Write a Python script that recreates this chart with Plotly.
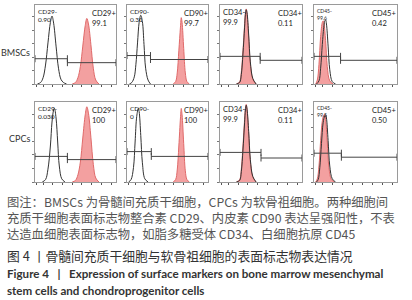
import plotly.graph_objects as go

W, H = 412, 300

# ---- data ----------------------------------------------------------------
row_labels = ["BMSCs", "CPCs"]
markers = ["CD29", "CD90", "CD34", "CD45"]

# percentages printed in each panel (negative gate, positive gate)
bm_neg_pct = ["0.90", "0.31", "99.9", "99.6"]
bm_pos_pct = ["99.1", "99.7", "0.11", "0.42"]
cpc_neg_pct = ["0.030", "0", "99.9", "99.5"]
cpc_pos_pct = ["100", "100", "0.11", "0.50"]

# gate split position (% of panel width) and gate heights (% of max)
bm_gate_split = [40, 29, 49, 32]
bm_gate_left_h = [32, 36, 35, 35]
bm_gate_right_h = [27, 31, 30, 30]
cpc_gate_split = [40, 30, 50, 33]
cpc_gate_left_h = [32, 38, 37, 36]
cpc_gate_right_h = [28, 32, 30, 31]

# histogram curves (x: % of panel width, y: % of max count)
bm_cd29_ctrl_x = [3, 7, 10, 13, 16, 19, 21, 23, 26, 29, 32, 35, 39]
bm_cd29_ctrl_y = [0, 2, 8, 24, 52, 78, 86, 77, 48, 20, 6, 2, 0]
bm_cd29_stain_x = [46, 50, 53, 56, 59, 62, 64, 66, 69, 72, 75, 79]
bm_cd29_stain_y = [0, 2, 8, 22, 48, 74, 83, 76, 50, 20, 5, 0]

bm_cd90_ctrl_x = [3, 6, 9, 11, 13, 15, 17, 19, 21, 23, 26, 29]
bm_cd90_ctrl_y = [0, 2, 9, 25, 52, 78, 87, 79, 50, 20, 5, 0]
bm_cd90_stain_x = [57, 60, 62, 64, 66, 67, 68, 70, 72, 74, 77]
bm_cd90_stain_y = [0, 3, 14, 42, 72, 84, 78, 45, 14, 3, 0]

bm_cd34_stain_x = [20, 24, 26, 28, 30, 31, 32, 33, 35, 37, 40, 44]
bm_cd34_stain_y = [0, 3, 15, 42, 75, 90, 95, 88, 58, 25, 6, 0]
bm_cd34_ctrl_x = [20, 24, 26, 28, 30, 31, 32, 33, 35, 37, 40, 44]
bm_cd34_ctrl_y = [0, 2, 12, 38, 72, 88, 94, 90, 62, 28, 7, 0]

bm_cd45_stain_x = [2, 4, 6, 8, 10, 11, 12, 14, 16, 19, 23]
bm_cd45_stain_y = [0, 5, 25, 60, 78, 80, 77, 55, 22, 4, 0]
bm_cd45_ctrl_x = [3, 6, 8, 10, 12, 13, 14, 15, 17, 19, 22, 26]
bm_cd45_ctrl_y = [0, 4, 20, 50, 74, 80, 81, 76, 48, 18, 3, 0]

cpc_cd29_ctrl_x = [9, 13, 16, 19, 21, 23, 24, 26, 28, 30, 33, 37]
cpc_cd29_ctrl_y = [0, 3, 16, 45, 75, 90, 92, 80, 50, 20, 4, 0]
cpc_cd29_stain_x = [46, 50, 53, 56, 59, 62, 64, 66, 69, 72, 75, 79]
cpc_cd29_stain_y = [0, 2, 9, 25, 55, 84, 94, 86, 56, 22, 5, 0]

cpc_cd90_ctrl_x = [2, 5, 8, 10, 12, 14, 15, 17, 19, 22, 26]
cpc_cd90_ctrl_y = [0, 3, 18, 50, 82, 92, 88, 58, 24, 4, 0]
cpc_cd90_stain_x = [57, 60, 62, 64, 66, 67, 68, 70, 72, 74, 77]
cpc_cd90_stain_y = [0, 3, 15, 45, 80, 92, 84, 48, 14, 3, 0]

cpc_cd34_stain_x = [20, 24, 26, 28, 30, 31, 32, 33, 35, 37, 40, 44]
cpc_cd34_stain_y = [0, 3, 16, 45, 78, 92, 97, 90, 60, 26, 6, 0]
cpc_cd34_ctrl_x = [20, 24, 26, 28, 30, 31, 32, 33, 35, 37, 40, 44]
cpc_cd34_ctrl_y = [0, 2, 13, 40, 74, 90, 96, 91, 63, 28, 7, 0]

cpc_cd45_stain_x = [2, 4, 6, 8, 10, 12, 13, 14, 16, 18, 21, 25]
cpc_cd45_stain_y = [0, 4, 20, 52, 76, 84, 84, 78, 50, 18, 3, 0]
cpc_cd45_ctrl_x = [3, 5, 7, 9, 11, 13, 14, 15, 17, 19, 22, 26]
cpc_cd45_ctrl_y = [0, 3, 18, 48, 74, 83, 84, 80, 52, 20, 4, 0]

caption_lines = [
    "图注：BMSCs 为骨髓间充质干细胞，CPCs 为软骨祖细胞。两种细胞间",
    "充质干细胞表面标志物整合素 CD29、内皮素 CD90 表达呈强阳性，不表",
    "达造血细胞表面标志物，如脂多糖受体 CD34、白细胞抗原 CD45",
]
title_cn = "图 4 丨骨髓间充质干细胞与软骨祖细胞的表面标志物表达情况"
title_en = [
    "Figure 4&nbsp;&nbsp;&nbsp;|&nbsp;&nbsp;&nbsp;Expression of surface markers on bone marrow mesenchymal",
    "stem cells and chondroprogenitor cells",
]

# ---- layout geometry (pixels) --------------------------------------------
col_px = [(35, 116), (127, 208), (220, 302), (314, 397)]
row_px = [(5, 84), (102, 182)]

curves = [
    [(bm_cd29_stain_x, bm_cd29_stain_y, bm_cd29_ctrl_x, bm_cd29_ctrl_y),
     (bm_cd90_stain_x, bm_cd90_stain_y, bm_cd90_ctrl_x, bm_cd90_ctrl_y),
     (bm_cd34_stain_x, bm_cd34_stain_y, bm_cd34_ctrl_x, bm_cd34_ctrl_y),
     (bm_cd45_stain_x, bm_cd45_stain_y, bm_cd45_ctrl_x, bm_cd45_ctrl_y)],
    [(cpc_cd29_stain_x, cpc_cd29_stain_y, cpc_cd29_ctrl_x, cpc_cd29_ctrl_y),
     (cpc_cd90_stain_x, cpc_cd90_stain_y, cpc_cd90_ctrl_x, cpc_cd90_ctrl_y),
     (cpc_cd34_stain_x, cpc_cd34_stain_y, cpc_cd34_ctrl_x, cpc_cd34_ctrl_y),
     (cpc_cd45_stain_x, cpc_cd45_stain_y, cpc_cd45_ctrl_x, cpc_cd45_ctrl_y)],
]
neg_pcts = [bm_neg_pct, cpc_neg_pct]
pos_pcts = [bm_pos_pct, cpc_pos_pct]
splits = [bm_gate_split, cpc_gate_split]
left_h = [bm_gate_left_h, cpc_gate_left_h]
right_h = [bm_gate_right_h, cpc_gate_right_h]

fig = go.Figure()
layout = {}
annotations = []

RED_FILL = "rgba(242,150,150,0.9)"
RED_LINE = "#e06a6a"
BLACK = "#333333"
FRAME = "#9a9a9a"
LAB_FONT = "Lato"

idx = 0
for r in range(2):
    for c in range(4):
        idx += 1
        xa = "x" if idx == 1 else f"x{idx}"
        ya = "y" if idx == 1 else f"y{idx}"
        xkey = "xaxis" if idx == 1 else f"xaxis{idx}"
        ykey = "yaxis" if idx == 1 else f"yaxis{idx}"
        x0, x1 = col_px[c]
        y0, y1 = row_px[r]
        layout[xkey] = dict(
            domain=[x0 / W, x1 / W], range=[0, 100], anchor=ya,
            showline=True, mirror=True, linecolor=FRAME, linewidth=1,
            showgrid=False, zeroline=False, ticks="outside", ticklen=2,
            tickcolor="#555", tickwidth=1, tickvals=[2, 10, 22, 34, 46, 58, 70, 82, 94],
            showticklabels=False, fixedrange=True,
        )
        layout[ykey] = dict(
            domain=[1 - y1 / H, 1 - y0 / H], range=[0, 100], anchor=xa,
            showline=True, mirror=True, linecolor=FRAME, linewidth=1,
            showgrid=False, zeroline=False, ticks="outside", ticklen=2,
            tickcolor="#777", tickwidth=1, tickvals=[0, 17, 34, 51, 68, 85],
            showticklabels=False, fixedrange=True,
        )
        sx, sy, cx, cy = curves[r][c]
        fig.add_trace(go.Scatter(
            x=sx, y=sy, xaxis=xa, yaxis=ya, mode="lines",
            line=dict(color=RED_LINE, width=1, shape="spline", smoothing=1.0),
            fill="tozeroy", fillcolor=RED_FILL, hoverinfo="skip", showlegend=False))
        fig.add_trace(go.Scatter(
            x=cx, y=cy, xaxis=xa, yaxis=ya, mode="lines",
            line=dict(color=BLACK, width=1, shape="spline", smoothing=1.0),
            hoverinfo="skip", showlegend=False))
        sp = splits[r][c]
        for gx, gy in (([0, sp], left_h[r][c]), ([sp, 100], right_h[r][c])):
            fig.add_trace(go.Scatter(
                x=gx, y=[gy, gy], xaxis=xa, yaxis=ya,
                mode="lines+markers", line=dict(color="#444", width=1),
                marker=dict(symbol="line-ns-open", size=5, color="#444",
                            line=dict(width=1, color="#444")),
                hoverinfo="skip", showlegend=False, cliponaxis=False))
        small = 5 if c == 3 else (6.5 if c < 2 else 7.5)
        annotations.append(dict(
            x=1, y=99, xref=xa, yref=ya, xanchor="left", yanchor="top",
            text=f"{markers[c]}-<br>{neg_pcts[r][c]}", showarrow=False,
            align="left", font=dict(family=LAB_FONT, size=small, color="#222")))
        annotations.append(dict(
            x=68, y=97, xref=xa, yref=ya, xanchor="left", yanchor="top",
            text=f"{markers[c]}+<br>{pos_pcts[r][c]}", showarrow=False,
            align="left", font=dict(family=LAB_FONT, size=7.5, color="#222")))

# row labels
for r, lab in enumerate(row_labels):
    yc = [52, 138][r]
    annotations.append(dict(
        x=32 / W, y=1 - yc / H, xref="paper", yref="paper", xanchor="right",
        yanchor="middle", text=lab, showarrow=False,
        font=dict(family=LAB_FONT, size=9, color="#333")))

# caption
cn_font = "Noto Sans CJK SC"
annotations.append(dict(
    x=5 / W, y=1 - 191 / H, xref="paper", yref="paper", xanchor="left",
    yanchor="top", text="<br>".join(caption_lines), showarrow=False, align="left",
    font=dict(family=cn_font, size=12.3, color="#555")))
annotations.append(dict(
    x=5 / W, y=1 - 255 / H, xref="paper", yref="paper", xanchor="left",
    yanchor="middle", text=title_cn, showarrow=False,
    font=dict(family=cn_font, size=12.8, color="#333")))
for i, line in enumerate(title_en):
    yc = [273, 290][i]
    annotations.append(dict(
        x=5 / W, y=1 - yc / H, xref="paper", yref="paper", xanchor="left",
        yanchor="middle", text=f"<b>{line}</b>", showarrow=False,
        font=dict(family="Lato", size=11.6, color="#333")))

fig.update_layout(
    width=W, height=H, margin=dict(l=0, r=0, t=0, b=0),
    paper_bgcolor="white", plot_bgcolor="white",
    annotations=annotations, **layout,
)
fig.write_html(
    "out.html", include_plotlyjs=True, config={"displayModeBar": False},
    post_script="document.body.style.margin='0';document.body.style.padding='0';",
)
